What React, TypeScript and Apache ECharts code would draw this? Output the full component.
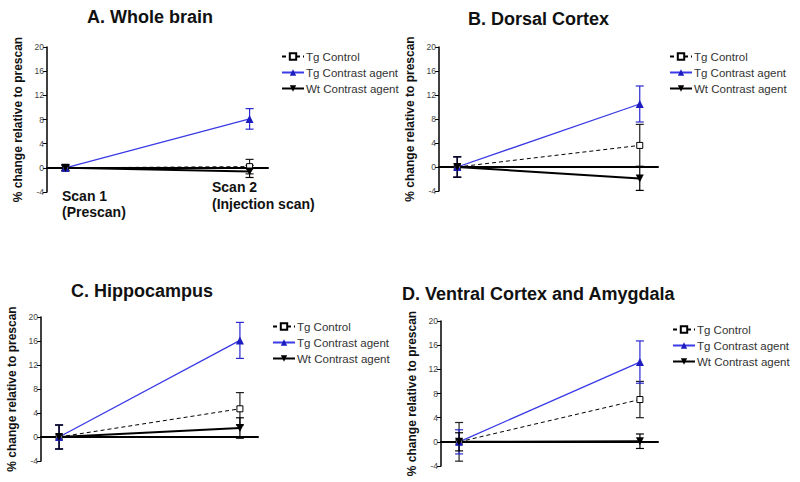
import React, { useEffect, useRef } from "react";
import * as echarts from "echarts";

// ---- data ----
const scans = [0, 1];
const seriesNames = ["Tg Control", "Tg Contrast agent", "Wt Contrast agent"];
const panelTitles = ["A. Whole brain", "B. Dorsal Cortex", "C. Hippocampus", "D. Ventral Cortex and Amygdala"];
const yTicks = { min: -4, max: 20, interval: 4 };

const aTgControl = [0, 0.2];
const aTgControlErr = [0.4, 1.2];
const aTgContrast = [0, 8.1];
const aTgContrastErr = [0.5, 1.7];
const aWt = [0, -0.6];
const aWtErr = [0.5, 1.0];

const bTgControl = [0, 3.6];
const bTgControlErr = [1.7, 3.5];
const bTgContrast = [0, 10.5];
const bTgContrastErr = [1.7, 3.0];
const bWt = [0, -1.9];
const bWtErr = [1.7, 2.0];

const cTgControl = [0, 4.7];
const cTgControlErr = [2.0, 2.7];
const cTgContrast = [0, 16.1];
const cTgContrastErr = [2.0, 3.0];
const cWt = [0, 1.5];
const cWtErr = [2.0, 1.7];

const dTgControl = [0, 7.0];
const dTgControlErr = [3.2, 3.0];
const dTgContrast = [0, 13.2];
const dTgContrastErr = [2.0, 3.5];
const dWt = [0, 0.1];
const dWtErr = [1.5, 1.2];

const FONT = "Liberation Sans, Arial, Helvetica, sans-serif";

const panels = [
  { vals: [aTgControl, aTgContrast, aWt], errs: [aTgControlErr, aTgContrastErr, aWtErr] },
  { vals: [bTgControl, bTgContrast, bWt], errs: [bTgControlErr, bTgContrastErr, bWtErr] },
  { vals: [cTgControl, cTgContrast, cWt], errs: [cTgControlErr, cTgContrastErr, cWtErr] },
  { vals: [dTgControl, dTgContrast, dWt], errs: [dTgControlErr, dTgContrastErr, dWtErr] },
];

// layout
const grids = [
  { left: 47, top: 47, width: 221, height: 145 },
  { left: 439, top: 47, width: 219, height: 144 },
  { left: 41, top: 317, width: 217, height: 144 },
  { left: 441, top: 321, width: 217, height: 145 },
];
const titlePos = [
  { left: 87, top: 8 },
  { left: 468, top: 10 },
  { left: 71, top: 282 },
  { left: 402, top: 285 },
];
const legendPos = [
  { left: 281, top: 50 },
  { left: 669, top: 50 },
  { left: 272, top: 320 },
  { left: 672, top: 323 },
];

const lineStyles = [
  {
    symbol: "rect",
    symbolSize: 6,
    symbolRotate: 0,
    itemStyle: { color: "#ffffff", borderColor: "#000", borderWidth: 1 },
    lineStyle: { color: "#000", width: 1, type: [4, 3] },
    errColor: "#222",
  },
  {
    symbol: "triangle",
    symbolSize: 8,
    symbolRotate: 0,
    itemStyle: { color: "#1c1cc0", borderColor: "#1c1cc0", borderWidth: 0 },
    lineStyle: { color: "#3a3ae6", width: 1.3, type: "solid" },
    errColor: "#2a2ad0",
  },
  {
    symbol: "triangle",
    symbolSize: 8,
    symbolRotate: 180,
    itemStyle: { color: "#000", borderColor: "#000", borderWidth: 0 },
    lineStyle: { color: "#000", width: 2, type: "solid" },
    errColor: "#000",
  },
];

function errorRender(color: string) {
  return (params: any, api: any) => {
    const x = api.value(0);
    const m = api.value(1);
    const e = api.value(2);
    const top = api.coord([x, m + e]);
    const bot = api.coord([x, m - e]);
    const cap = 4;
    const style = { stroke: color, lineWidth: 1.2, fill: "none" };
    return {
      type: "group",
      children: [
        { type: "line", shape: { x1: top[0], y1: top[1], x2: bot[0], y2: bot[1] }, style },
        { type: "line", shape: { x1: top[0] - cap, y1: top[1], x2: top[0] + cap, y2: top[1] }, style },
        { type: "line", shape: { x1: bot[0] - cap, y1: bot[1], x2: bot[0] + cap, y2: bot[1] }, style },
      ],
    };
  };
}

export default function App() {
  const ref = useRef<HTMLDivElement>(null);
  useEffect(() => {
    if (!ref.current) return;
    const chart = echarts.init(ref.current, undefined, { renderer: "svg" });

    const series: any[] = [];
    panels.forEach((p, pi) => {
      p.vals.forEach((vals, si) => {
        const st = lineStyles[si];
        series.push({
          type: "custom",
          name: seriesNames[si] + " error " + pi,
          xAxisIndex: pi,
          yAxisIndex: pi,
          z: 2,
          renderItem: errorRender(st.errColor),
          data: scans.map((s, i) => [s, vals[i], p.errs[si][i]]),
          encode: { x: 0, y: 1 },
          silent: true,
        });
      });
      p.vals.forEach((vals, si) => {
        const st = lineStyles[si];
        series.push({
          type: "line",
          name: seriesNames[si],
          xAxisIndex: pi,
          yAxisIndex: pi,
          z: 3,
          symbol: st.symbol,
          symbolSize: st.symbolSize,
          symbolRotate: st.symbolRotate,
          showAllSymbol: true,
          itemStyle: st.itemStyle,
          lineStyle: st.lineStyle,
          data: scans.map((s, i) => [s, vals[i]]),
        });
      });
    });

    const option: any = {
      animation: false,
      backgroundColor: "#ffffff",
      textStyle: { fontFamily: FONT },
      title: panelTitles.map((t, i) => ({
        text: t,
        left: titlePos[i].left,
        top: titlePos[i].top,
        padding: 0,
        textStyle: { fontFamily: FONT, fontSize: 18, fontWeight: "bold", color: "#111" },
      })),
      legend: legendPos.map((lp) => ({
        data: seriesNames,
        orient: "vertical",
        left: lp.left,
        top: lp.top,
        padding: 0,
        itemWidth: 22,
        itemHeight: 8,
        itemGap: 3,
        selectedMode: false,
        textStyle: { fontFamily: FONT, fontSize: 11.5, lineHeight: 13, color: "#333", padding: [0, 0, 0, -3] },
      })),
      grid: grids.map((g) => ({ ...g, containLabel: false })),
      xAxis: grids.map((_, i) => ({
        type: "value",
        gridIndex: i,
        min: -0.1,
        max: 1.1,
        axisLine: { show: true, onZero: true, lineStyle: { color: "#000", width: 2 } },
        axisTick: { show: false },
        axisLabel: { show: false },
        splitLine: { show: false },
      })),
      yAxis: grids.map((_, i) => ({
        type: "value",
        gridIndex: i,
        min: yTicks.min,
        max: yTicks.max,
        interval: yTicks.interval,
        name: "% change relative to prescan",
        nameLocation: "middle",
        nameRotate: 90,
        nameGap: 23,
        nameTextStyle: { fontFamily: FONT, fontSize: 12, fontWeight: "bold", color: "#111" },
        axisLine: { show: true, onZero: false, lineStyle: { color: "#000", width: 1.5 } },
        axisTick: { show: true, length: 4, lineStyle: { color: "#000", width: 1 } },
        axisLabel: { fontFamily: FONT, fontSize: 8.5, color: "#444", margin: 3 },
        splitLine: { show: false },
      })),
      graphic: [
        { type: "text", left: 62, top: 189, style: { text: "Scan 1", font: "bold 14px " + FONT, fill: "#111" } },
        { type: "text", left: 62, top: 205, style: { text: "(Prescan)", font: "bold 14px " + FONT, fill: "#111" } },
        { type: "text", left: 212, top: 180, style: { text: "Scan 2", font: "bold 14px " + FONT, fill: "#111" } },
        { type: "text", left: 212, top: 197, style: { text: "(Injection scan)", font: "bold 14px " + FONT, fill: "#111" } },
      ],
      series,
    };
    chart.setOption(option);
    return () => chart.dispose();
  }, []);
  return (
    <div
      ref={ref}
      style={{ position: "fixed", left: 0, top: 0, width: 800, height: 482, background: "#fff" }}
    />
  );
}
